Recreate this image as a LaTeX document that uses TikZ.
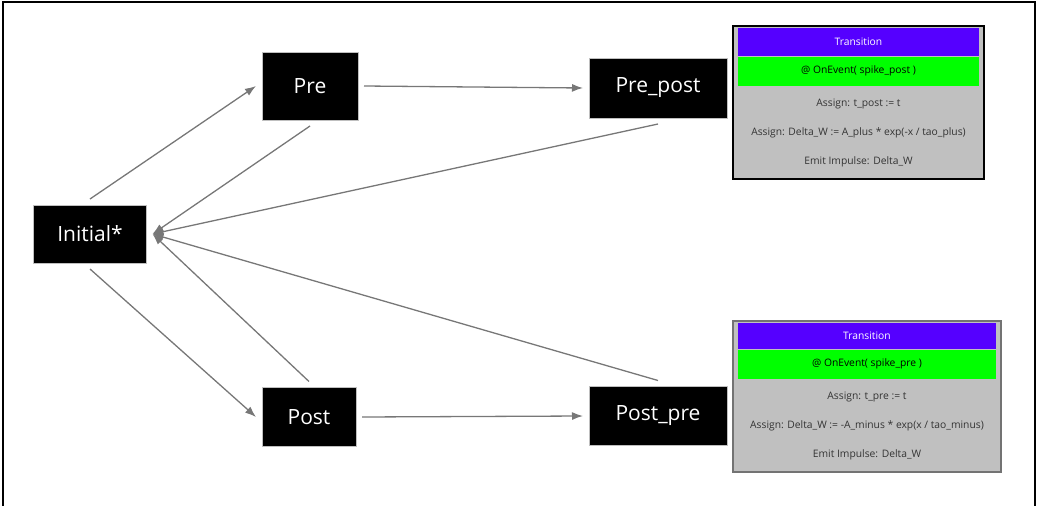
\documentclass[tikz,border=0pt]{standalone}
\usepackage{fontspec}
\setmainfont{Open Sans}
\usepackage{tikz}
\usetikzlibrary{positioning,arrows.meta}
\definecolor{hdpurple}{HTML}{5500FF}
\definecolor{evgreen}{HTML}{00FF00}
\definecolor{bodygray}{HTML}{C0C0C0}
\definecolor{edgegray}{HTML}{777777}
\tikzstyle{state} = [rectangle, fill=black, draw=gray!50, thin, text=white, text centered, outer sep=6pt, font=\fontsize{21}{25}\selectfont]
\tikzstyle{tframe} = [rectangle, fill=bodygray, line width=2pt, inner sep=0pt]
\tikzstyle{thead} = [rectangle, fill=hdpurple, text=white, inner sep=0pt, font=\fontsize{10.3}{12}\selectfont]
\tikzstyle{tevent} = [rectangle, fill=evgreen, text=black, inner sep=0pt, minimum height=29, font=\fontsize{10.3}{12}\selectfont]
\tikzstyle{tline} = [text=black!80, inner sep=0pt, minimum height=29, font=\fontsize{10.3}{12}\selectfont]
\tikzstyle{edge} = [draw, edgegray, line width=1.3pt, -{Latex[length=11pt,width=8pt]}]

\begin{document}
\begin{tikzpicture}[x=1pt, y=-1pt]
    \useasboundingbox (0,0) rectangle (1037,506);
    % outer frame
    \draw [line width=2pt] (3,506) -- (3,2) -- (1035,2) -- (1035,506);

	% place nodes
    \node [state, minimum width=113, minimum height=58] (init)    at (90,234)  {Initial*};
    \node [state, minimum width=96,  minimum height=68] (pre)     at (310,86)  {Pre};
    \node [state, minimum width=94,  minimum height=59] (post)    at (309,417) {Post};
    \node [state, minimum width=138, minimum height=60] (prepost) at (658,88)  {Pre\_post};
    \node [state, minimum width=138, minimum height=59] (postpre) at (658,416) {Post\_pre};

    % transition boxes
    \node [tframe, draw=black, minimum width=251, minimum height=153] (tpost) at (858.5,102.5) {};
    \node [thead, minimum width=241, minimum height=28, below=3pt of tpost.north] (tposthd) {Transition};
    \node [tevent, minimum width=241, below=0pt of tposthd] (tpostev) {@ OnEvent( spike\_post )};
    \node [tline, below=3pt of tpostev] (tpostl1) {Assign: t\_post := t};
    \node [tline, below=0pt of tpostl1] (tpostl2) {Assign: Delta\_W := A\_plus * exp(-x / tao\_plus)};
    \node [tline, below=0pt of tpostl2] (tpostl3) {Emit Impulse: Delta\_W};

    \node [tframe, draw=gray!90!black, minimum width=268, minimum height=151] (tpre) at (867,396.5) {};
    \node [thead, minimum width=258, minimum height=26, below=3pt of tpre.north] (tprehd) {Transition};
    \node [tevent, minimum width=258, below=0pt of tprehd] (tpreev) {@ OnEvent( spike\_pre )};
    \node [tline, below=3pt of tpreev] (tprel1) {Assign: t\_pre := t};
    \node [tline, below=0pt of tprel1] (tprel2) {Assign: Delta\_W := -A\_minus * exp(x / tao\_minus)};
    \node [tline, below=0pt of tprel2] (tprel3) {Emit Impulse: Delta\_W};

	% draw edges
    \path [edge] (init.north)    -- (pre.west);
    \path [edge] (pre.east)      -- (prepost.west);
    \path [edge] (init.south)    -- (post.west);
    \path [edge] (post.east)     -- (postpre.west);
    \path [edge] (pre.south)     -- (init.east);
    \path [edge] (prepost.south) -- (init.east);
    \path [edge] (post.north)    -- (init.east);
    \path [edge] (postpre.north) -- (init.east);
\end{tikzpicture}
\end{document}
